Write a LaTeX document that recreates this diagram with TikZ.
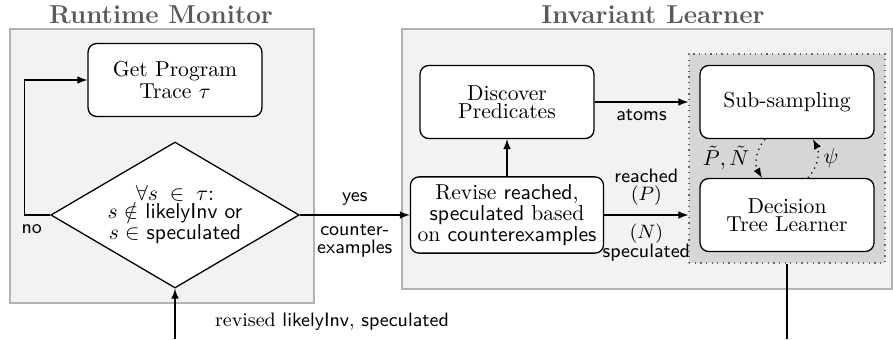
\documentclass[tikz,border=0pt]{standalone}
\usepackage{amsmath,amssymb}
\usepackage{tikz}
\usetikzlibrary{shapes.geometric}

\begin{document}
\begin{tikzpicture}[x=0.463pt, y=-0.463pt, semithick,
    box/.style={draw, fill=white, rounded corners=4pt, align=center, font=\fontsize{10}{8.4}\selectfont, minimum width=80.5pt, minimum height=33.8pt},
    check/.style={draw, fill=white, diamond, aspect=1.7, inner sep=0pt, align=center, font=\fontsize{10}{8}\selectfont, minimum width=115pt, minimum height=67.6pt},
    panel/.style={draw=black!30, fill=black!5},
    title/.style={font=\large\bfseries, text=black!65},
    lbl/.style={font=\fontsize{9}{8.6}\selectfont\sffamily, align=center, inner sep=4pt},
    arrow/.style={-latex}]
    \useasboundingbox (0,0) rectangle (893,339);

    % the two panels
    \draw[panel] (10,29) rectangle (314,303);
    \draw[panel] (402,29) rectangle (892,289);
    \node[title] (rmtitle) at (161,15) {Runtime Monitor};
    \node[title] (iltitle) at (653,15) {Invariant Learner};

    \node[draw=black!60, dotted, fill=black!16, minimum width=90.7pt, minimum height=96.8pt] (grp) at (787,158.5) {};

    \node[box] (trace) at (175,80) {Get Program\\Trace $\tau$};
    \node[check] (check) at (175,215) {$\forall s\;\in\;\tau$:\\$s\notin$ \textsf{likelyInv or}\\$s\in$ \textsf{speculated}};
    \node[box] (disc) at (507,102) {Discover\\Predicates};
    \node[box, minimum width=85pt] (revise) at (507,215) {Revise \textsf{reached},\\\textsf{speculated} based\\on \textsf{counterexamples}};
    \node[box] (sub) at (787,102) {Sub-sampling};
    \node[box] (dtl) at (787,215) {Decision\\Tree Learner};

    \coordinate (fbin) at (175,339);
    \coordinate (fbout) at (787,339);

    \draw[arrow] (check.west) -- ++(-26,0) |- (trace.west);
    \node[lbl, anchor=north east, inner sep=1pt] (no) at ([xshift=-2.5pt,yshift=-3pt]check.west) {no};
    \draw[arrow] (check.east) -- node[lbl, above] {yes} node[lbl, below] {counter-\\examples} (revise.west);
    \draw[arrow] (revise) -- (disc);
    \draw[arrow] (disc.east) -- node[lbl, below, inner sep=3pt] {atoms} (grp.west |- disc.east);
    \draw[arrow] (revise.east) -- node[lbl, above] {reached\\$(P)$} node[lbl, below] {$(N)$\\speculated} (grp.west |- revise.east);

    \draw[dotted, arrow] ([xshift=-10.2pt]sub.south) to[bend right=35] ([xshift=-11.6pt]dtl.north);
    \draw[dotted, arrow] ([xshift=9.7pt]dtl.north) to[bend right=35] ([xshift=12pt]sub.south);
    \node (pn) at (726,158) {$\tilde{P},\tilde{N}$};
    \node (psi) at (831,158) {$\psi$};

    \draw[arrow] (fbin) -- (check.south);
    \draw (grp.south) -- (fbout);
    \node[font=\small] (revlbl) at (332,322) {revised \textsf{likelyInv}, \textsf{speculated}};
\end{tikzpicture}
\end{document}
